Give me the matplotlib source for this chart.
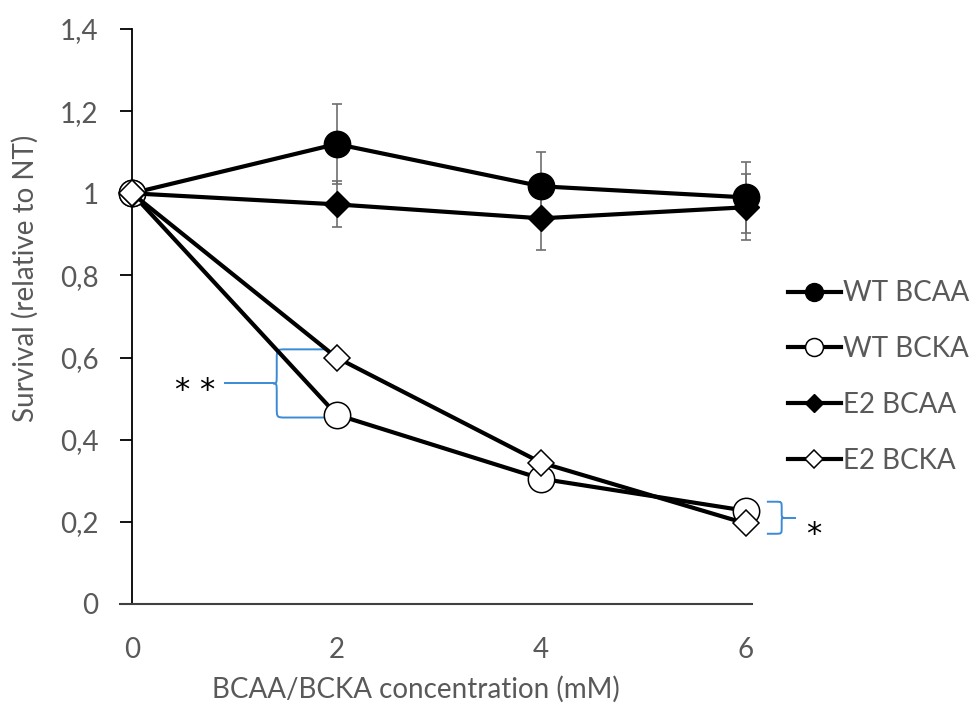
import numpy as np
import matplotlib
matplotlib.use('agg')
import matplotlib.pyplot as plt
from matplotlib.path import Path
from matplotlib.patches import PathPatch
from matplotlib.ticker import FuncFormatter

plt.rcParams['font.family'] = ['Lato', 'DejaVu Sans']

# data
conc = [0, 2, 4, 6]
wt_bcaa = [1.0, 1.12, 1.017, 0.99]
wt_bcaa_err = [0.0, 0.097, 0.084, 0.086]
wt_bcka = [1.0, 0.461, 0.305, 0.227]
e2_bcaa = [1.0, 0.973, 0.939, 0.966]
e2_bcaa_err = [0.0, 0.056, 0.076, 0.08]
e2_bcka = [1.0, 0.60, 0.344, 0.196]

labels = ['WT BCAA', 'WT BCKA', 'E2 BCAA', 'E2 BCKA']
yticks = [0, 0.2, 0.4, 0.6, 0.8, 1.0, 1.2, 1.4]

grey = '#595959'
blue = '#3a8ad6'
fs = 20

fig = plt.figure(figsize=(9.76, 7.18), dpi=100)
ax = fig.add_axes([0.1352, 0.1588, 0.7705 - 0.1352, 0.9596 - 0.1588])

# error bars (behind the lines)
ax.errorbar(conc[1:], wt_bcaa[1:], yerr=wt_bcaa_err[1:], fmt='none',
            ecolor='#6e6e6e', elinewidth=1.2, capsize=3.8, capthick=1.2, zorder=1)
ax.errorbar(conc[1:], e2_bcaa[1:], yerr=e2_bcaa_err[1:], fmt='none',
            ecolor='#6e6e6e', elinewidth=1.2, capsize=3.8, capthick=1.2, zorder=1)

lw = 3
h1, = ax.plot(conc, wt_bcaa, '-o', color='k', lw=lw, ms=19, mfc='k', mec='k', mew=1, zorder=3, clip_on=False)
h2, = ax.plot(conc, wt_bcka, '-o', color='k', lw=lw, ms=19, mfc='white', mec='k', mew=1.1, zorder=4, clip_on=False)
h3, = ax.plot(conc, e2_bcaa, '-D', color='k', lw=lw, ms=13.5, mfc='k', mec='k', mew=1, zorder=5, clip_on=False)
h4, = ax.plot(conc, e2_bcka, '-D', color='k', lw=lw, ms=13.5, mfc='white', mec='k', mew=1.1, zorder=6, clip_on=False)

ax.set_xlim(0, 6.06)
ax.set_ylim(0, 1.4)
ax.set_xticks(conc)
ax.set_yticks(yticks)
ax.yaxis.set_major_formatter(FuncFormatter(lambda v, p: ('%g' % round(v, 2)).replace('.', ',')))

for s in ['top', 'right']:
    ax.spines[s].set_visible(False)
ax.spines['left'].set_color('k')
ax.spines['left'].set_linewidth(1.3)
ax.spines['bottom'].set_color('#404040')
ax.spines['bottom'].set_linewidth(1.5)
ax.spines['bottom'].set_bounds(-0.12, 6.06)

ax.tick_params(axis='y', direction='out', length=9, width=1.3, color='k',
               labelsize=fs, labelcolor=grey, pad=15)
ax.tick_params(axis='x', length=0, labelsize=fs, labelcolor=grey, pad=24)

ax.set_xlabel('BCAA/BCKA concentration (mM)', fontsize=fs, color=grey)
ax.set_ylabel('Survival (relative to NT)', fontsize=fs, color=grey)
ax.xaxis.set_label_coords(0.458, -0.125)
ax.yaxis.set_label_coords(-0.15, 0.567)

leg = ax.legend([h1, h2, h3, h4], labels, loc='upper left', bbox_to_anchor=(1.04, 0.582),
                frameon=False, fontsize=fs, labelcolor=grey, markerscale=0.68,
                handlelength=1.9, handletextpad=0.1, labelspacing=1.07, borderaxespad=0)

# significance braces
def brace(xa, xs, xt, y0, y1, xend, rx, ry):
    ym = (y0 + y1) / 2.0
    sg = 1 if xa > xs else -1
    for yy, d in [(y0, -1), (y1, 1)]:
        verts = [(xa, yy), (xs + sg * rx, yy),
                 (xs, yy), (xs, yy), (xs, yy + d * ry),
                 (xs, ym - d * ry),
                 (xs, ym), (xs, ym), (xt, ym)]
        codes = [Path.MOVETO, Path.LINETO,
                 Path.CURVE4, Path.CURVE4, Path.CURVE4,
                 Path.LINETO,
                 Path.CURVE4, Path.CURVE4, Path.CURVE4]
        ax.add_patch(PathPatch(Path(verts, codes), fill=False, ec=blue, lw=1.4,
                               clip_on=False, zorder=2))
    ax.plot([xt, xend], [ym, ym], color=blue, lw=1.4, clip_on=False, zorder=2)

brace(conc[1] - 0.107, conc[1] - 0.585, conc[1] - 0.62,
      e2_bcka[1] + 0.02, wt_bcka[1] - 0.007, conc[1] - 1.09, 0.09, 0.025)
ax.text(conc[1] - 1.38, 0.52, '* *', fontsize=22, ha='center', va='center',
        color='k', family='DejaVu Sans')

brace(conc[3] + 0.205, conc[3] + 0.35, conc[3] + 0.37,
      wt_bcka[3] + 0.022, e2_bcka[3] - 0.025, conc[3] + 0.48, 0.06, 0.015)
ax.text(conc[3] + 0.66, 0.168, '*', fontsize=22, ha='center', va='center',
        color='k', family='DejaVu Sans', clip_on=False)

fig.savefig('out.png', dpi=100)
